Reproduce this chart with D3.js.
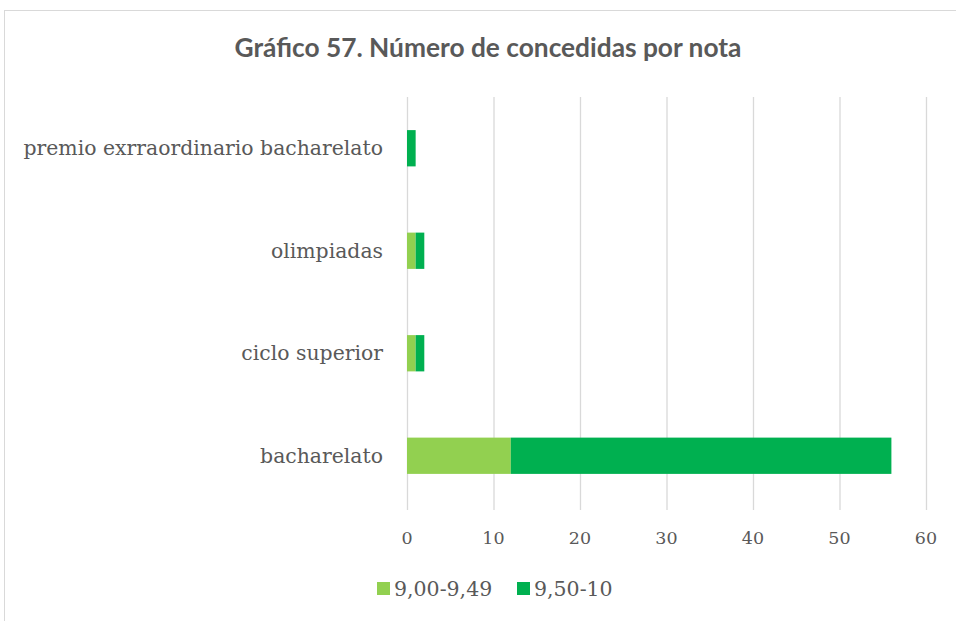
<!DOCTYPE html>
<html>
<head>
<meta charset="utf-8">
<script src="https://cdn.jsdelivr.net/npm/d3@7"></script>
<style>
  html, body { margin: 0; padding: 0; background: #fff; }
  svg { display: block; }
</style>
</head>
<body>
<svg id="chart" width="956" height="621"></svg>
<script>
// Categories, top to bottom
const categories = ["premio exrraordinario bacharelato", "olimpiadas", "ciclo superior", "bacharelato"];
// Series values per category
const serieLow = [0, 1, 1, 12];   // 9,00-9,49
const serieHigh = [1, 1, 1, 44];  // 9,50-10
const seriesNames = ["9,00-9,49", "9,50-10"];
const seriesColors = ["#92d050", "#00b050"];
const xTicks = [0, 10, 20, 30, 40, 50, 60];

const svg = d3.select("#chart");
const W = 956, H = 621;
const serif = "'DejaVu Serif', serif";

// Chart frame
svg.append("rect")
  .attr("x", 4.5).attr("y", 10.5)
  .attr("width", W + 10).attr("height", H + 10)
  .attr("fill", "#fff").attr("stroke", "#d9d9d9").attr("stroke-width", 1);

// Title
svg.append("text")
  .attr("x", 488).attr("y", 57)
  .attr("text-anchor", "middle")
  .attr("font-family", "Lato, 'Open Sans', sans-serif")
  .attr("font-weight", "bold")
  .attr("font-size", 26.3)
  .attr("fill", "#595959")
  .text("Gráfico 57. Número de concedidas por nota");

const plot = { left: 407, right: 926, top: 97, bottom: 507 };

const x = d3.scaleLinear().domain([0, 60]).range([plot.left, plot.right]);
const y = d3.scaleBand().domain(categories).range([plot.top, plot.bottom])
  .paddingInner(0.646).paddingOuter(0.323);

// Vertical gridlines
svg.append("g").selectAll("line").data(xTicks).join("line")
  .attr("x1", d => x(d) + 0.5).attr("x2", d => x(d) + 0.5)
  .attr("y1", plot.top).attr("y2", plot.bottom + 3)
  .attr("stroke", "#d9d9d9").attr("stroke-width", 1.3);

// Tick labels
svg.append("g").selectAll("text").data(xTicks).join("text")
  .attr("x", d => x(d)).attr("y", 544)
  .attr("text-anchor", "middle")
  .attr("font-family", serif)
  .attr("font-size", 17.5)
  .attr("fill", "#595959")
  .text(d => d);

// Stacked bars
const rows = categories.map((c, i) => ({ cat: c, vals: [serieLow[i], serieHigh[i]] }));
const stackData = rows.map(r => {
  let acc = 0;
  return r.vals.map((v, k) => { const s = acc; acc += v; return { cat: r.cat, k, x0: s, x1: acc }; });
}).flat();

svg.append("g").selectAll("rect").data(stackData.filter(d => d.x1 > d.x0)).join("rect")
  .attr("x", d => x(d.x0))
  .attr("y", d => y(d.cat))
  .attr("width", d => x(d.x1) - x(d.x0))
  .attr("height", y.bandwidth())
  .attr("fill", d => seriesColors[d.k]);

// Category labels
svg.append("g").selectAll("text").data(categories).join("text")
  .attr("x", 383).attr("y", d => y(d) + y.bandwidth() / 2)
  .attr("dy", "0.35em")
  .attr("text-anchor", "end")
  .attr("font-family", serif)
  .attr("font-size", 20.4)
  .attr("fill", "#595959")
  .text(d => d);

// Legend
const legendItems = [{ x: 377, name: seriesNames[0], color: seriesColors[0] },
                     { x: 517, name: seriesNames[1], color: seriesColors[1] }];
const lg = svg.append("g");
lg.selectAll("rect").data(legendItems).join("rect")
  .attr("x", d => d.x).attr("y", 582).attr("width", 13).attr("height", 13)
  .attr("fill", d => d.color);
lg.selectAll("text").data(legendItems).join("text")
  .attr("x", d => d.x + 17).attr("y", 596)
  .attr("font-family", serif)
  .attr("font-size", 20.5)
  .attr("fill", "#595959")
  .text(d => d.name);
</script>
</body>
</html>
